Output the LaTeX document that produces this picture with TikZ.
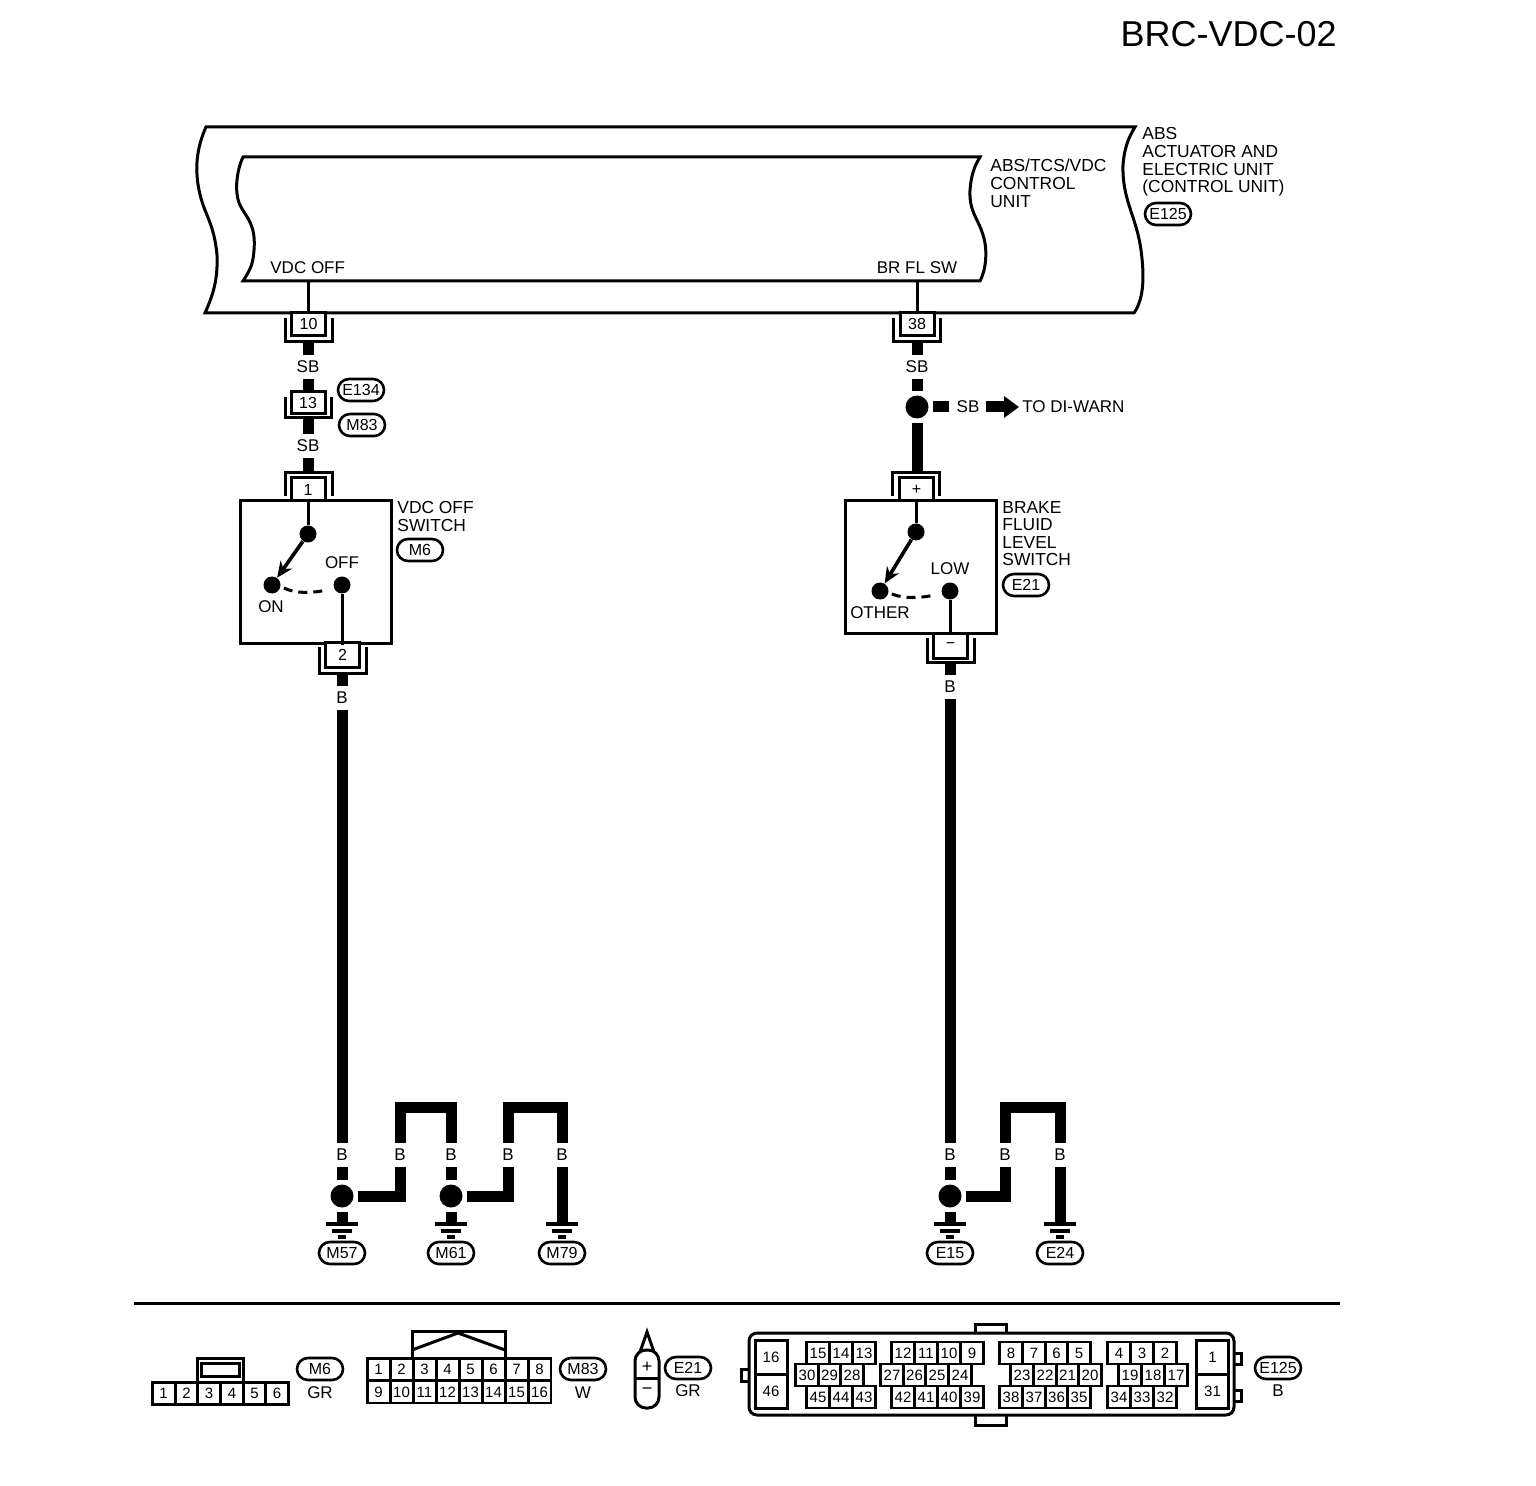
\documentclass[tikz,border=0pt]{standalone}
\usepackage{fontspec}
\setmainfont{Liberation Sans}
\usetikzlibrary{arrows.meta,shapes.misc,calc}
\tikzset{
  thinl/.style={line width=1.5pt,line cap=butt,miter limit=10},
  lever/.style={line width=1.8pt,line cap=butt,-{Stealth[length=8pt,width=7pt]}},
  swing/.style={line width=1.5pt,line cap=butt,dash pattern=on 4.5pt off 3pt},
  wire/.style={line width=5.5pt,line cap=butt,line join=miter},
  wl/.style={inner sep=0pt,minimum height=12pt,minimum width=8pt,font=\fontsize{8.5}{9}\selectfont},
  txt/.style={inner sep=0pt,anchor=north west,align=left,font=\fontsize{8.7}{8.9}\selectfont},
  lbl/.style={inner sep=0pt,font=\fontsize{8.5}{9}\selectfont},
  oval/.style={rounded rectangle,draw,line width=1.3pt,inner sep=0pt,minimum width=23pt,minimum height=11pt,font=\fontsize{8}{9}\selectfont},
  pin/.style={rectangle,draw,line width=1.5pt,fill=white,inner sep=0pt,minimum width=17pt,minimum height=11.5pt,font=\fontsize{8}{9}\selectfont},
  junc/.style={circle,fill=black,inner sep=0pt,minimum size=11.5pt,outer sep=2.2pt},
  contact/.style={circle,fill=black,inner sep=0pt,minimum size=8.5pt},
  cell/.style={rectangle,draw,line width=1.4pt,fill=white,inner sep=0pt,minimum width=11.4pt,minimum height=11pt,font=\fontsize{7.5}{8}\selectfont},
  gndl/.style={line width=1.8pt,line cap=butt},
}
\newcommand{\ushape}[4]{\draw[thinl] (#1,#3) -- (#1,#4) -- (#2,#4) -- (#2,#3);}
\newcommand{\grnd}[1]{\draw[gndl] (#1-16,1224) -- (#1+16,1224) (#1-10,1231) -- (#1+10,1231) (#1-4,1237) -- (#1+4,1237);}
\begin{document}
\begin{tikzpicture}[x=0.5pt,y=-0.5pt]
\useasboundingbox (0,0) rectangle (1536,1486);
\node[inner sep=0pt,anchor=east,font=\fontsize{18}{20}\selectfont] (title) at (1337,34) {BRC-VDC-02};
% module outlines
\draw[thinl,line join=miter] (206,127) .. controls (198,145) and (194,165) .. (199,190) .. controls (204,215) and (214,222) .. (217,255) .. controls (218,280) and (213,295) .. (205,313) -- (1134,313) .. controls (1143,300) and (1145,280) .. (1141,250) .. controls (1136,215) and (1122,200) .. (1123,165) .. controls (1124,150) and (1128,138) .. (1135,127) -- cycle;
\draw[thinl,line join=miter] (243,157) .. controls (236,172) and (234,195) .. (241,207) .. controls (247,218) and (256,225) .. (254,250) .. controls (253,265) and (250,270) .. (243,281) -- (980,281) .. controls (986,270) and (988,250) .. (983,235) .. controls (978,218) and (969,212) .. (970,190) .. controls (971,175) and (975,165) .. (980,157) -- cycle;
\node[lbl,anchor=west] (vdcoff) at (270,268) {VDC OFF};
\node[lbl] (brfl) at (917,268) {BR FL SW};
\node[txt] (absvdc) at (990,158.5) {ABS/TCS/VDC\\CONTROL\\UNIT};
\node[txt] (absact) at (1142,127) {ABS\\ACTUATOR AND\\ELECTRIC UNIT\\(CONTROL UNIT)};
\node[oval] (e125) at (1168,214) {E125};
% left branch
\coordinate (vT) at (308,281);
\coordinate (vB) at (308,313);
\draw[thinl] (vT) -- (vB);
\node[pin] (c10) at (308.5,324) {10};
\ushape{285}{332}{318}{342}
\coordinate (c10s) at (308,342);
\node[wl] (sb1) at (308,367) {SB};
\draw[wire] (c10s) -- (sb1.north);
\node[pin,minimum height=11pt] (c13) at (308,403) {13};
\ushape{285}{331}{397}{418}
\coordinate (c13s) at (308,418);
\coordinate (c13n) at (308,392);
\draw[wire] (sb1.south) -- (c13n);
\node[oval] (e134) at (361,390) {E134};
\node[oval] (m83a) at (362,425) {M83};
\node[wl] (sb2) at (308,446) {SB};
\draw[wire] (c13s) -- (sb2.north);
\node[pin,minimum height=11.5pt] (c1) at (308,489.5) {1};
\ushape{285}{332}{496}{473}
\coordinate (c1n) at (308,473);
\draw[wire] (sb2.south) -- (c1n);
\node[rectangle,draw,line width=1.5pt,inner sep=0pt,minimum width=75.5pt,minimum height=71pt] (sw1) at (315.5,572) {};
\node[contact] (pv1) at (308,534) {};
\node[contact] (on) at (272,585) {};
\node[contact] (off) at (342,585) {};
\draw[thinl] (sw1.north -| pv1) -- (pv1);
\draw[lever] (pv1) -- (on);
\draw[swing] ($(on.east)+(3,3)$) .. controls +(12,6) and +(-14,3) .. ($(off.west)+(-6,5)$);
\node[lbl] (ont) at (271,607) {ON};
\node[lbl] (offt) at (342,563) {OFF};
\node[pin,minimum height=12.5pt] (c2) at (342.5,655) {2};
\ushape{319}{366}{647}{673}
\draw[thinl] (off) -- (sw1.south -| off);
\coordinate (c2s) at (342,673);
\node[wl] (b1) at (342,698) {B};
\draw[wire] (c2s) -- (b1.north);
\node[txt,align=left] (vdct) at (397,501) {VDC OFF\\SWITCH};
\node[oval] (m6a) at (420,550) {M6};
\node[wl] (b2) at (342,1155) {B};
\draw[wire] (b1.south) -- (b2.north);
\node[junc] (j1) at (342,1196) {};
\draw[wire] (b2.south) -- (j1.north);
\node[wl] (b3) at (400,1155) {B};
\draw[wire] (j1.east) -- (j1.east -| b3.south) -- (b3.south);
\node[wl] (b4) at (451,1155) {B};
\coordinate (t1) at (400,1107.5);
\draw[wire] (b3.north) -- (t1) -| (b4.north);
\node[junc] (j2) at (451,1196) {};
\draw[wire] (b4.south) -- (j2.north);
\node[wl] (b5) at (508,1155) {B};
\draw[wire] (j2.east) -- (j2.east -| b5.south) -- (b5.south);
\node[wl] (b6) at (562,1155) {B};
\coordinate (t2) at (508,1107.5);
\draw[wire] (b5.north) -- (t2) -| (b6.north);
\coordinate (g1) at (342,1224);
\coordinate (g2) at (451,1224);
\coordinate (g3) at (562,1224);
\draw[wire] (j1.south) -- (g1);
\draw[wire] (j2.south) -- (g2);
\draw[wire] (b6.south) -- (g3);
\grnd{342}\grnd{451}\grnd{562}
\node[oval] (m57) at (342,1253) {M57};
\node[oval] (m61) at (451,1253) {M61};
\node[oval] (m79) at (562,1253) {M79};
% right branch
\coordinate (bT) at (917,281);
\coordinate (bB) at (917,313);
\draw[thinl] (bT) -- (bB);
\node[pin] (c38) at (917,324) {38};
\ushape{893}{940}{318}{342}
\coordinate (c38s) at (917,342);
\node[wl] (sb3) at (917,367) {SB};
\draw[wire] (c38s) -- (sb3.north);
\node[junc] (j3) at (917,407) {};
\draw[wire] (sb3.south) -- (j3.north);
\node[wl] (sb4) at (968,407) {SB};
\draw[wire] (j3.east) -- ([xshift=-3.5pt]sb4.west);
\node[lbl,anchor=west] (diw) at (1022,407) {TO DI-WARN};
\draw[wire,-{Triangle[length=7.5pt,width=10.5pt]}] ([xshift=3pt]sb4.east) -- ([xshift=-1.5pt]diw.west);
\node[pin] (cp) at (916.5,489.5) {+};
\ushape{892}{939}{496}{473}
\coordinate (cpn) at (917,473);
\draw[wire] (j3.south) -- (cpn);
\node[rectangle,draw,line width=1.5pt,inner sep=0pt,minimum width=75.5pt,minimum height=66pt] (sw2) at (920.5,567) {};
\node[contact] (pv2) at (916,532) {};
\node[contact] (oth) at (880,591) {};
\node[contact] (low) at (950,591) {};
\draw[thinl] (sw2.north -| pv2) -- (pv2);
\draw[lever] (pv2) -- (oth);
\draw[swing] ($(oth.east)+(3,3)$) .. controls +(12,5) and +(-14,3) .. ($(low.west)+(-6,4)$);
\node[lbl] (otht) at (880,613) {OTHER};
\node[lbl] (lowt) at (950,569) {LOW};
\draw[thinl] (low) -- (sw2.south -| low);
\node[pin,minimum height=12.5pt] (cm) at (950.5,645.5) {−};
\ushape{927}{974}{638}{662}
\coordinate (cms) at (950,662);
\node[wl] (b7) at (950,687) {B};
\draw[wire] (cms) -- (b7.north);
\node[txt,font=\fontsize{8.7}{8.75}\selectfont] (brk) at (1002,501) {BRAKE\\FLUID\\LEVEL\\SWITCH};
\node[oval] (e21a) at (1026,585) {E21};
\node[wl] (b8) at (950,1155) {B};
\draw[wire] (b7.south) -- (b8.north);
\node[junc] (j4) at (950,1196) {};
\draw[wire] (b8.south) -- (j4.north);
\node[wl] (b9) at (1005,1155) {B};
\draw[wire] (j4.east) -- (j4.east -| b9.south) -- (b9.south);
\node[wl] (b10) at (1060,1155) {B};
\coordinate (t3) at (1005,1107.5);
\draw[wire] (b9.north) -- (t3) -| (b10.north);
\coordinate (g4) at (950,1224);
\coordinate (g5) at (1060,1224);
\draw[wire] (j4.south) -- (g4);
\draw[wire] (b10.south) -- (g5);
\grnd{950}\grnd{1060}
\node[oval] (e15) at (950,1253) {E15};
\node[oval] (e24) at (1060,1253) {E24};
% separator
\draw[thinl] (134,1303) -- (1340,1303);
% M6 connector
\draw[thinl] (197,1382) rectangle (243,1358);
\draw[thinl] (201,1376) rectangle (239,1363);
\foreach \n/\x in {1/163.5,2/186.5,3/209,4/232,5/254.5,6/277}
  \node[cell] (aa\n) at (\x,1393.5) {\n};
\node[oval] (m6b) at (320,1369) {M6};
\node[lbl] (m6c) at (320,1393) {GR};
% M83 connector
\draw[thinl] (412,1358) -- (412,1331) -- (505,1331) -- (505,1358);
\draw[thinl] (412,1350) -- (458,1333) -- (505,1350);
\foreach \n/\x in {1/378.5,2/401.5,3/424.5,4/447.5,5/470.5,6/493.5,7/516.5,8/539.5}
  \node[cell] (ba\n) at (\x,1369.5) {\n};
\foreach \n/\x in {9/378.5,10/401.5,11/424.5,12/447.5,13/470.5,14/493.5,15/516.5,16/539.5}
  \node[cell] (ba\n) at (\x,1392) {\n};
\node[oval] (m83b) at (583,1369) {M83};
\node[lbl] (m83c) at (583,1393) {W};
% E21 connector
\draw[thinl] (640,1352) -- (647,1332) -- (654,1352);
\node[rectangle,draw,line width=1.5pt,rounded corners=5.5pt,fill=white,inner sep=0pt,minimum width=12pt,minimum height=29pt] (cap) at (647,1379) {};
\draw[thinl] (cap.west) ++(0,-1) -- ++(24,0);
\node[inner sep=0pt,font=\fontsize{9}{9}\selectfont] (capp) at (647,1367) {+};
\node[inner sep=0pt,font=\fontsize{9}{9}\selectfont] (capm) at (647,1391) {−};
\node[oval] (e21b) at (688,1368) {E21};
\node[lbl] (e21c) at (688,1391) {GR};
% E125 connector
\draw[thinl,fill=white] (975,1333) -- (975,1324) -- (1006,1324) -- (1006,1333);
\draw[thinl,fill=white] (975,1415) -- (975,1425) -- (1006,1425) -- (1006,1415);
\draw[thinl] (749,1369) -- (741,1369) -- (741,1381) -- (749,1381);
\draw[thinl] (1234,1353) -- (1241,1353) -- (1241,1364) -- (1234,1364);
\draw[thinl] (1234,1390) -- (1241,1390) -- (1241,1401) -- (1234,1401);
\draw[thinl,rounded corners=4pt] (749,1333) rectangle (1234,1415);
\foreach \n/\x/\y in {16/771/1357.5,46/771/1391.5,1/1212.5/1357.5,31/1212.5/1391.5}
  \node[rectangle,draw,line width=1.5pt,inner sep=0pt,minimum width=16pt,minimum height=17pt,font=\fontsize{7.5}{8}\selectfont] (ec\n) at (\x,\y) {\n};
\foreach \n/\x/\y in {15/818/1353,14/841/1353,13/864/1353,30/807/1375,29/829.5/1375,28/852/1375,45/818/1397,44/841/1397,43/864/1397,
  12/903/1353,11/926/1353,10/949/1353,9/972/1353,27/892/1375,26/914.5/1375,25/937/1375,24/960/1375,42/903/1397,41/926/1397,40/949/1397,39/972/1397,
  8/1011/1353,7/1034/1353,6/1056.5/1353,5/1079/1353,23/1022/1375,22/1045/1375,21/1067.5/1375,20/1090/1375,38/1011/1397,37/1034/1397,36/1056.5/1397,35/1079/1397,
  4/1119/1353,3/1142/1353,2/1165/1353,19/1130/1375,18/1153/1375,17/1176/1375,34/1119/1397,33/1142/1397,32/1165/1397}
  \node[cell] (ep\n) at (\x,\y) {\n};
\node[oval] (e125b) at (1278,1368) {E125};
\node[lbl] (e125c) at (1278,1391) {B};
\end{tikzpicture}
\end{document}
